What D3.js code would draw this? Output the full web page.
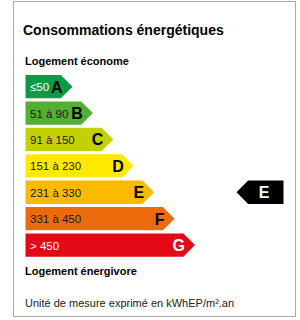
<!DOCTYPE html>
<html>
<head>
<meta charset="utf-8">
<script src="https://cdn.jsdelivr.net/npm/d3@7"></script>
<style>
  body { margin: 0; background: #fff; }
  svg { display: block; font-family: "Liberation Sans", Arial, sans-serif; }
</style>
</head>
<body>
<svg></svg>
<script>
const width = 300,
      height = 320;

// Energy classes, their ranges and colours
const classes = ["A", "B", "C", "D", "E", "F", "G"];
const ranges = ["≤50", "51 à 90", "91 à 150", "151 à 230", "231 à 330", "331 à 450", "> 450"];
const colors = ["#0c9a45", "#53ae32", "#c4d100", "#ffe900", "#fbb900", "#eb6b0c", "#e30917"];
const lightText = ["A", "G"];   // classes with white range label
const current = "E";

const svg = d3.select("svg")
              .attr("width", width)
              .attr("height", height);

// frame
svg.append("rect")
   .attr("x", 13.5)
   .attr("y", 1.5)
   .attr("width", 282)
   .attr("height", 315)
   .attr("fill", "#fff")
   .attr("stroke", "#aaa");

svg.append("text")
   .attr("x", 23)
   .attr("y", 35)
   .attr("font-size", "14px")
   .attr("font-weight", "bold")
   .attr("fill", "#000")
   .text("Consommations énergétiques");

svg.append("text")
   .attr("x", 25)
   .attr("y", 65)
   .attr("font-size", "11px")
   .attr("font-weight", "bold")
   .text("Logement économe");

// one row per class
let y = d3.scaleBand()
          .domain(classes)
          .range([75, 256.7])
          .paddingInner(0.117)
          .paddingOuter(0);

// arrow tip position grows with class
let tip = d3.scaleLinear()
            .domain([0, classes.length - 1])
            .range([72.5, 195]);

const x0 = 25.5;

let rows = svg.append("g")
  .selectAll("g")
  .data(classes)
  .enter().append("g")
  .attr("transform", (d) => "translate(0," + y(d) + ")");

rows.append("path")
    .attr("fill", (d, i) => colors[i])
    .attr("d", (d, i) => {
      const h = y.bandwidth(), t = tip(i), b = t - h / 2;
      return "M" + x0 + ",0H" + b + "L" + t + "," + h / 2 + "L" + b + "," + h + "H" + x0 + "Z";
    });

rows.append("text")
    .attr("x", 30)
    .attr("y", y.bandwidth() / 2 + 4.5)
    .attr("font-size", "11.5px")
    .attr("fill", (d) => lightText.includes(d) ? "#fff" : "#1a1a1a")
    .text((d, i) => ranges[i]);

rows.append("text")
    .attr("x", (d, i) => tip(i) - 10)
    .attr("y", y.bandwidth() / 2 + 6)
    .attr("text-anchor", "end")
    .attr("font-size", "16px")
    .attr("font-weight", "bold")
    .attr("fill", (d) => d === "G" ? "#fff" : "#000")
    .text((d) => d);

// current class marker
const h = y.bandwidth();
let marker = svg.append("g")
  .attr("transform", "translate(0," + y(current) + ")");

marker.append("path")
  .attr("fill", "#000")
  .attr("d", "M236.5," + h / 2 + "L" + (236.5 + h / 2) + ",0H283.5V" + h + "H" + (236.5 + h / 2) + "Z");

marker.append("text")
  .attr("x", 264)
  .attr("y", h / 2 + 6)
  .attr("text-anchor", "middle")
  .attr("font-size", "16px")
  .attr("font-weight", "bold")
  .attr("fill", "#fff")
  .text(current);

svg.append("text")
   .attr("x", 25)
   .attr("y", 275)
   .attr("font-size", "11px")
   .attr("font-weight", "bold")
   .text("Logement énergivore");

svg.append("text")
   .attr("x", 25)
   .attr("y", 307)
   .attr("font-size", "11px")
   .attr("fill", "#222")
   .text("Unité de mesure exprimé en kWhEP/m².an");
</script>
</body>
</html>
